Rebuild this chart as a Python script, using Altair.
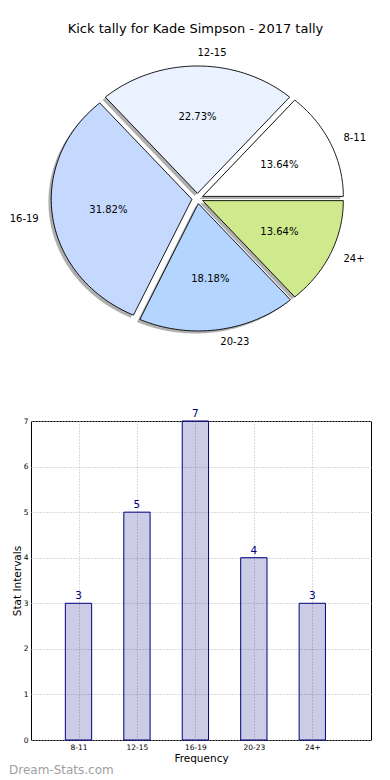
import altair as alt
import pandas as pd

# ---------------- data ----------------
cats = ["8-11", "12-15", "16-19", "20-23", "24+"]
kicks = [3, 5, 7, 4, 3]
pie_colors = ["#ffffff", "#eaf2ff", "#c5d9ff", "#b3d5ff", "#cfea8c"]
y_ticks = [0, 1, 2, 3, 4, 5, 6, 7]

title_text = "Kick tally for Kade Simpson - 2017 tally"
x_title = "Frequency"
y_title = "Stat Intervals"
watermark = "Dream-Stats.com"

df = pd.DataFrame({"cat": cats, "v": kicks, "idx": list(range(len(cats)))})
wm_df = pd.DataFrame({"t": [watermark]})

# ---------------- layout ----------------
X0 = 30      # page x of the plot origin (measured)
Y0 = 44      # page y of pie panel origin
CX, CY = 196.5, 198.5
RX, RY = 140.7, 127.4
PW = 370 - X0
PH = 310
BH = 319
BAR_TOP = 421
SP = BAR_TOP - (Y0 + PH)
PT = 14
E = 0.04
N = 60
FONT = "DejaVu Sans"
BAR_PX = 58.45          # pixels per category step
BAR_C0 = 77.5           # page x of first bar centre

xdom = [-(CX - X0) / RX, (X0 + PW - CX) / RX]
ydom = [-(Y0 + PH - CY) / RY, (CY - Y0) / RY]
bxdom = [-(BAR_C0 - X0) / BAR_PX, (X0 + PW - BAR_C0) / BAR_PX]


def xenc(f):
    return alt.X(f"{f}:Q", scale=alt.Scale(domain=xdom, nice=False, zero=False), axis=None)


def yenc(f):
    return alt.Y(f"{f}:Q", scale=alt.Scale(domain=ydom, nice=False, zero=False), axis=None)


base = (
    alt.Chart(df)
    .transform_joinaggregate(total="sum(v)")
    .transform_window(cum="sum(v)", sort=[alt.SortField("idx")], frame=[None, 0])
    .transform_calculate(a0="2*PI*(datum.cum - datum.v)/datum.total")
    .transform_calculate(a1="2*PI*datum.cum/datum.total")
    .transform_calculate(am="(datum.a0 + datum.a1)/2")
    .transform_calculate(ex=f"{E}*cos(datum.am)")
    .transform_calculate(ey=f"{E}*sin(datum.am)")
)

pts = (
    base.transform_calculate(s=f"sequence(-1, {N + 2})")
    .transform_flatten(["s"])
    .transform_calculate(r=f"(datum.s < 0 || datum.s > {N}) ? 0 : 1")
    .transform_calculate(ang=f"datum.a0 + (datum.a1 - datum.a0)*clamp(datum.s, 0, {N})/{N}")
    .transform_calculate(px="datum.ex + datum.r*cos(datum.ang)")
    .transform_calculate(py="datum.ey + datum.r*sin(datum.ang)")
    .transform_calculate(sx="datum.px - 0.02")
    .transform_calculate(sy="datum.py - 0.02")
)

shadow = pts.mark_line(filled=True, fill="#4d4d4d", fillOpacity=0.45, strokeOpacity=0).encode(
    x=xenc("sx"), y=yenc("sy"), order="s:Q", detail="cat:N"
)

wedges = pts.mark_line(filled=True, stroke="black", strokeWidth=0.9, strokeJoin="miter").encode(
    x=xenc("px"),
    y=yenc("py"),
    order="s:Q",
    detail="cat:N",
    color=alt.Color("cat:N", scale=alt.Scale(domain=cats, range=pie_colors), legend=None),
)

pct = (
    base.transform_calculate(tx="datum.ex + 0.6*cos(datum.am)")
    .transform_calculate(ty="datum.ey + 0.6*sin(datum.am)")
    .transform_calculate(label="format(100*datum.v/datum.total, '.2f') + '%'")
    .mark_text(fontSize=10, font=FONT, color="black")
    .encode(x=xenc("tx"), y=yenc("ty"), text="label:N")
)

lab = base.transform_calculate(lx="datum.ex + 1.1*cos(datum.am)").transform_calculate(
    ly="datum.ey + 1.1*sin(datum.am)"
)
lab_r = (
    lab.transform_filter("datum.lx > 0")
    .mark_text(fontSize=10, font=FONT, color="black", align="left", baseline="middle")
    .encode(x=xenc("lx"), y=yenc("ly"), text="cat:N")
)
lab_l = (
    lab.transform_filter("datum.lx <= 0")
    .mark_text(fontSize=10, font=FONT, color="black", align="right", baseline="middle")
    .encode(x=xenc("lx"), y=yenc("ly"), text="cat:N")
)

pie = alt.layer(shadow, wedges, pct, lab_r, lab_l).properties(
    width=PW,
    height=PH,
    title=alt.TitleParams(
        title_text, fontSize=13, font=FONT, fontWeight="normal", color="black",
        anchor="middle", offset=8, dx=194.5 - (X0 + PW / 2),
    ),
    view=alt.ViewBackground(stroke="transparent"),
)

# ---------------- bar chart ----------------
bbase = alt.Chart(df).transform_calculate(b0="datum.idx - 0.225").transform_calculate(
    b1="datum.idx + 0.225"
)
label_expr = "[" + ",".join(f"'{c}'" for c in cats) + "][datum.value]"
xscale = alt.Scale(domain=bxdom, nice=False, zero=False)
yscale = alt.Scale(domain=[0, 7], nice=False)

bars = bbase.mark_bar(
    fill="#000080", fillOpacity=0.2, stroke="#000080", strokeWidth=1
).encode(
    x=alt.X(
        "b0:Q",
        scale=xscale,
        axis=alt.Axis(
            values=[0, 1, 2, 3, 4], labelExpr=label_expr, title=x_title,
            labelPadding=3, titlePadding=3,
        ),
    ),
    x2="b1:Q",
    y=alt.Y(
        "v:Q",
        scale=yscale,
        axis=alt.Axis(values=y_ticks, title=y_title, labelPadding=3, titlePadding=1),
    ),
    y2=alt.datum(0),
)

vals = bbase.mark_text(dy=-2, baseline="bottom", color="#000080", fontSize=10.5, font=FONT).encode(
    x=alt.X("idx:Q", scale=xscale), y=alt.Y("v:Q", scale=yscale), text="v:Q"
)

wm = alt.Chart(wm_df).mark_text(
    align="left", baseline="middle", color="#a0a0a0", fontSize=12, font=FONT
).encode(x=alt.value(8 - X0), y=alt.value(770 - BAR_TOP), text="t:N")

bar = alt.layer(bars, vals, wm).properties(width=PW, height=BH)

chart = (
    alt.vconcat(pie, bar, spacing=SP, bounds="flush")
    .properties(padding={"left": 0, "top": PT, "right": 0, "bottom": 0})
    .configure(font=FONT)
    .configure_view(stroke="black", strokeWidth=1)
    .configure_axis(
        labelFont=FONT, labelFontSize=7.5, labelColor="black",
        titleFont=FONT, titleFontSize=10.5, titleFontWeight="normal", titleColor="black",
        domain=False, ticks=False, grid=True, gridColor="#b5b5b5", gridDash=[1, 2], gridWidth=1,
    )
)

chart.save("out.html", embed_options={"renderer": "svg", "actions": False})
